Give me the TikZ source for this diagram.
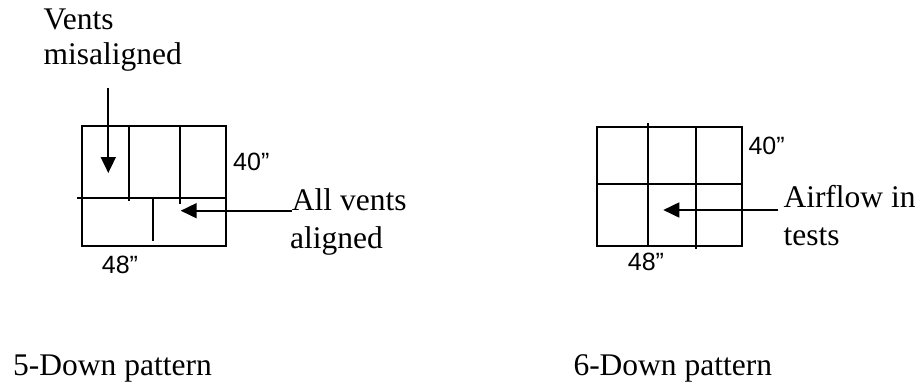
\documentclass[tikz,border=0pt]{standalone}
\usepackage{fontspec}
\setmainfont{Liberation Serif}
\newfontfamily\arialf{Liberation Sans}
\usetikzlibrary{arrows.meta}
\begin{document}
\begin{tikzpicture}[x=1pt,y=-1pt,
  ln/.style={line width=1.8pt, line cap=rect},
  arr/.style={line width=1.8pt, -{Triangle[length=16pt,width=15pt]}},
  lbl/.style={font=\fontsize{31.5}{36}\selectfont, anchor=base west, inner sep=0pt, align=left},
  dim/.style={font=\arialf\fontsize{25}{30}\selectfont, anchor=base west, inner sep=0pt}]
\useasboundingbox (0,0) rectangle (919,381);
% left pattern
\draw[ln] (81.7,125.7) rectangle (225.7,245.7);
\draw[ln] (78.3,197.7) -- (225.7,197.7);
\draw[ln] (129,125.7) -- (129,200);
\draw[ln] (180,125.7) -- (180,202.7);
\draw[ln] (153.3,197.7) -- (153.3,240);
\node[lbl] (vents) at (43.3,29) {Vents};
\node[lbl] (mis) at (43.3,64) {misaligned};
\coordinate (vtail) at (108.3,87.7);
\coordinate (vhead) at (108.3,173);
\draw[arr] (vtail) -- (vhead);
\node[lbl] (allv) at (291.7,210) {All vents};
\node[lbl] (alig) at (290,248) {aligned};
\coordinate (ahead) at (180.7,210.7);
\draw[arr] (allv.base west) ++(0,0.7) -- (ahead);
\node[dim] (d40a) at (233,170) {40”};
\node[dim] (d48a) at (101.7,273) {48”};
\node[lbl] (cap5) at (13,375) {5-Down pattern};
% right pattern
\draw[ln] (597.3,126.7) rectangle (742.3,246);
\draw[ln] (597.3,184.3) -- (742.3,184.3);
\draw[ln] (647.7,124) -- (647.7,246);
\draw[ln] (695.7,126.7) -- (695.7,248);
\node[lbl] (air) at (783.3,207.3) {Airflow in};
\node[lbl] (tests) at (783.3,245) {tests};
\coordinate (bhead) at (663.3,210);
\coordinate (btail) at (778.3,210);
\draw[arr] (btail) -- (bhead);
\node[dim] (d40b) at (748.3,154) {40”};
\node[dim] (d48b) at (627.7,270) {48”};
\node[lbl] (cap6) at (573.3,375) {6-Down pattern};
\end{tikzpicture}
\end{document}
